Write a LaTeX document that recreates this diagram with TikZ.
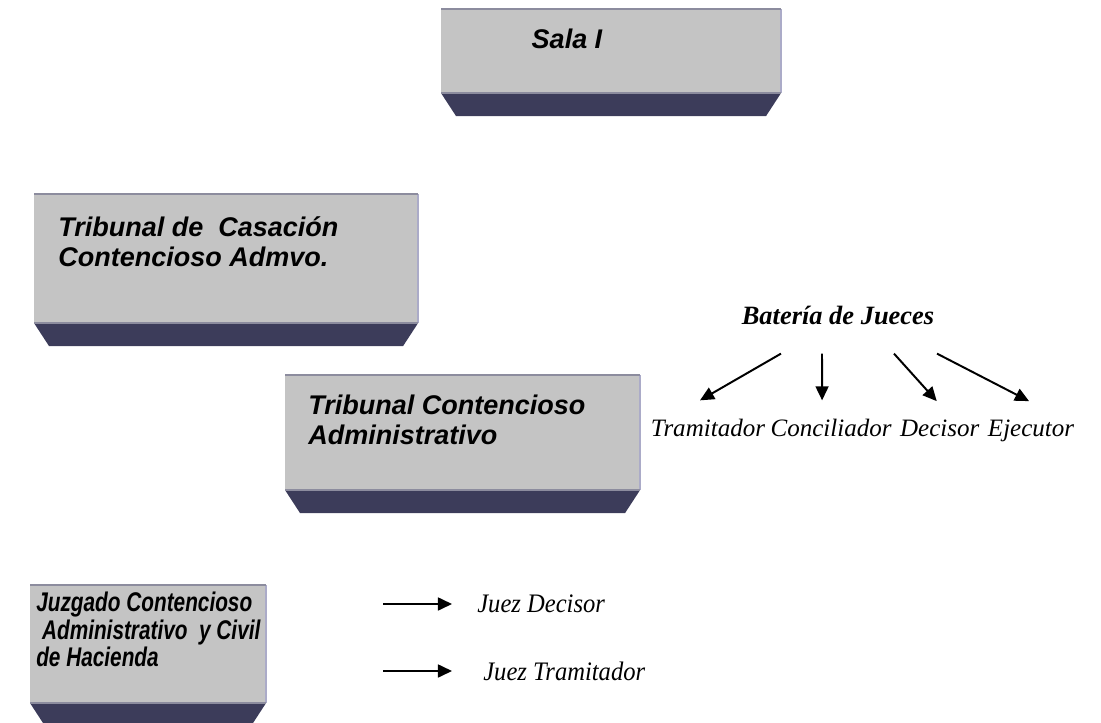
\documentclass[tikz,border=0pt]{standalone}
\usepackage{fontspec}
\setmainfont{Liberation Serif}
\setsansfont{Liberation Sans}
\newfontfamily\condsans[FakeStretch=0.77]{Liberation Sans}
\newfontfamily\condserif[FakeStretch=0.92]{Liberation Serif}
\usetikzlibrary{arrows.meta,positioning}

\definecolor{bodygray}{HTML}{C4C4C4}
\definecolor{rimgray}{HTML}{8C8C9E}
\definecolor{sidelav}{HTML}{ABABC8}
\definecolor{footblue}{HTML}{3C3C5A}

\begin{document}
\begin{tikzpicture}[
    x=0.025cm, y=-0.025cm,
    courtbox/.style={fill=bodygray, anchor=north west, inner sep=0pt, outer sep=0pt},
    courttext/.style={anchor=north west, inner sep=0pt, align=left,
      font=\sffamily\bfseries\itshape\fontsize{19.2}{21.3}\selectfont},
    judge/.style={inner sep=0pt, font=\itshape\fontsize{17.8}{20}\selectfont},
    pointer/.style={-{Triangle[length=10pt,width=9.2pt]}, line width=1.4pt},
  ]
  \useasboundingbox (0,0) rectangle (1101,723);

  % the four courts
  \node[courtbox, minimum width=8.5cm, minimum height=2.1cm] (sala) at (441,9) {};
  \node[courtbox, minimum width=9.6cm, minimum height=3.225cm] (casacion) at (34,194) {};
  \node[courtbox, minimum width=8.875cm, minimum height=2.875cm] (tribunal) at (285,375) {};
  \node[courtbox, minimum width=5.9cm, minimum height=2.95cm] (juzgado) at (30,585) {};

  \foreach \c in {sala,casacion,tribunal,juzgado} {
    \fill[footblue] (\c.south west) -- (\c.south east) -- ++(-15,23)
      -- ([shift={(15,23)}]\c.south west) -- cycle;
    \draw[sidelav, line width=1.6pt] (\c.north east) -- (\c.south east);
    \draw[rimgray, line width=1.8pt] (\c.north west) -- (\c.north east);
    \draw[rimgray, line width=1.4pt] (\c.south west) -- (\c.south east);
  }

  \node[courttext, anchor=north] (salatext) at ([shift={(126,20)}]sala.north west) {Sala I};
  \node[courttext] (casaciontext) at ([shift={(24,22)}]casacion.north west)
    {Tribunal de\ \ Casación\\Contencioso Admvo.};
  \node[courttext] (tribunaltext) at ([shift={(23,20)}]tribunal.north west)
    {Tribunal Contencioso\\Administrativo};
  \node[courttext, font=\condsans\bfseries\itshape\fontsize{19.2}{19.6}\selectfont]
    (juzgadotext) at ([shift={(6,7)}]juzgado.north west)
    {Juzgado Contencioso\\\ Administrativo\ \ y Civil\\de Hacienda};

  % bateria de jueces
  \node[judge, font=\bfseries\itshape\fontsize{18.8}{20}\selectfont] (bateria) at (838,315) {Batería de Jueces};
  \node[judge, anchor=base] (tram) at (708,436) {Tramitador};
  \node[judge, base right=0.125cm of tram] (conc) {Conciliador};
  \node[judge, base right=0.2cm of conc] (deci) {Decisor};
  \node[judge, base right=0.2cm of deci] (ejec) {Ejecutor};

  \draw[pointer] ([shift={(-57,29)}]bateria.south) -- ([shift={(-8,-18)}]tram.north);
  \draw[pointer] ([shift={(-16,29)}]bateria.south) -- ([shift={(-9,-18)}]conc.north);
  \draw[pointer] ([shift={(56,29)}]bateria.south) -- ([shift={(-3,-18)}]deci.north);
  \draw[pointer] ([shift={(99,29)}]bateria.south) -- ([shift={(-2,-18)}]ejec.north);

  % juzgado
  \coordinate (fromdec) at (383,604);
  \coordinate (fromtram) at (383,671);
  \node[judge, font=\condserif\itshape\fontsize{19}{20}\selectfont, right=2.35cm of fromdec] (jdec) {Juez Decisor};
  \node[judge, font=\condserif\itshape\fontsize{19}{20}\selectfont, right=2.5cm of fromtram] (jtram) {Juez Tramitador};
  \draw[pointer, shorten >=0.625cm] (fromdec) -- (jdec);
  \draw[pointer, shorten >=0.775cm] (fromtram) -- (jtram);
\end{tikzpicture}
\end{document}
